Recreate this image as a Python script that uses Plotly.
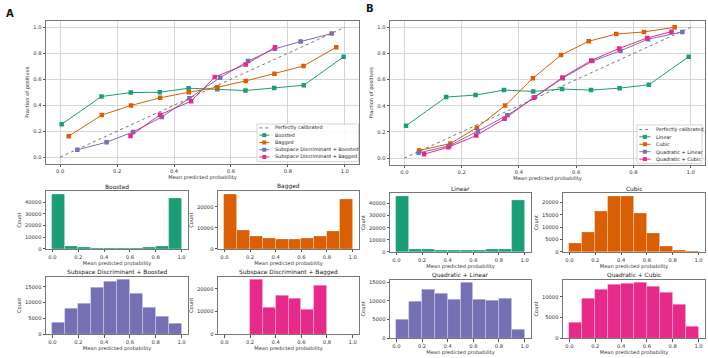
import plotly.graph_objects as go

W, H = 708, 358
FONT = "DejaVu Sans"
GREEN, ORANGE, PURPLE, PINK = "#1b9e77", "#d95f02", "#7570b3", "#e7298a"

# ---------------- Panel A: calibration curves ----------------
perfect_x = [0.0, 1.0]
perfect_y = [0.0, 1.0]

a_boosted_x = [0.005, 0.145, 0.248, 0.350, 0.451, 0.552, 0.651, 0.752, 0.856, 0.996]
a_boosted_y = [0.253, 0.467, 0.497, 0.500, 0.531, 0.523, 0.513, 0.533, 0.554, 0.773]
a_bagged_x = [0.030, 0.146, 0.249, 0.351, 0.452, 0.552, 0.652, 0.753, 0.855, 0.970]
a_bagged_y = [0.161, 0.324, 0.398, 0.457, 0.500, 0.538, 0.587, 0.643, 0.702, 0.847]
a_sdboost_x = [0.060, 0.163, 0.256, 0.357, 0.454, 0.562, 0.660, 0.754, 0.845, 0.954]
a_sdboost_y = [0.056, 0.115, 0.194, 0.309, 0.454, 0.612, 0.740, 0.834, 0.890, 0.952]
a_sdbag_x = [0.247, 0.351, 0.460, 0.543, 0.652, 0.755]
a_sdbag_y = [0.163, 0.327, 0.431, 0.617, 0.714, 0.847]

# ---------------- Panel B: calibration curves ----------------
b_linear_x = [0.006, 0.146, 0.249, 0.348, 0.450, 0.551, 0.652, 0.752, 0.854, 0.993]
b_linear_y = [0.247, 0.467, 0.482, 0.520, 0.510, 0.528, 0.520, 0.535, 0.561, 0.775]
b_cubic_x = [0.052, 0.161, 0.253, 0.352, 0.449, 0.547, 0.644, 0.740, 0.837, 0.944]
b_cubic_y = [0.058, 0.111, 0.232, 0.402, 0.611, 0.788, 0.894, 0.949, 0.965, 1.000]
b_quadlin_x = [0.050, 0.157, 0.257, 0.360, 0.455, 0.553, 0.657, 0.755, 0.851, 0.971]
b_quadlin_y = [0.040, 0.093, 0.207, 0.328, 0.465, 0.611, 0.742, 0.821, 0.909, 0.965]
b_quadcub_x = [0.069, 0.154, 0.251, 0.350, 0.452, 0.552, 0.653, 0.750, 0.848, 0.933]
b_quadcub_y = [0.030, 0.083, 0.172, 0.301, 0.462, 0.616, 0.747, 0.838, 0.919, 0.967]

# ---------------- Histograms (10 bins over [0, 1]) ----------------
bin_edges = [0.0, 0.1, 0.2, 0.3, 0.4, 0.5, 0.6, 0.7, 0.8, 0.9, 1.0]
h_boosted = [47000, 1800, 900, 700, 600, 600, 700, 900, 1800, 43000]
h_bagged = [26100, 8700, 6000, 5200, 4700, 4700, 5200, 6000, 8500, 23800]
h_sdboost = [3600, 8200, 9700, 14800, 16700, 17300, 12800, 8400, 5600, 3300]
h_sdbag = [0, 0, 24200, 11500, 16800, 15900, 10800, 21300, 0, 0]
h_linear = [46100, 2200, 1700, 1100, 1100, 1100, 1100, 1700, 2200, 42500]
h_cubic = [3400, 8100, 16500, 22600, 22600, 15800, 7400, 2300, 700, 300]
h_quadlin = [5000, 9900, 13100, 12100, 10300, 15000, 10500, 10200, 10700, 2300]
h_quadcub = [3800, 9500, 11800, 12900, 13200, 13500, 12500, 11000, 8100, 2800]

hist_titles = ["Boosted", "Bagged", "Subspace Discriminant + Boosted", "Subspace Discriminant + Bagged",
               "Linear", "Cubic", "Quadratic + Linear", "Quadratic + Cubic"]
hist_counts = [h_boosted, h_bagged, h_sdboost, h_sdbag, h_linear, h_cubic, h_quadlin, h_quadcub]
hist_colors = [GREEN, ORANGE, PURPLE, PINK, GREEN, ORANGE, PURPLE, PINK]
hist_yticks = [[0, 10000, 20000, 30000, 40000], [0, 10000, 20000], [0, 5000, 10000, 15000],
               [0, 10000, 20000], [0, 10000, 20000, 30000, 40000], [0, 5000, 10000, 15000, 20000],
               [0, 5000, 10000, 15000], [0, 5000, 10000]]
prob_ticks = [0.0, 0.2, 0.4, 0.6, 0.8, 1.0]

legend_a = ["Perfectly calibrated", "Boosted", "Bagged",
            "Subspace Discriminant + Boosted", "Subspace Discriminant + Bagged"]
legend_b = ["Perfectly calibrated", "Linear", "Cubic", "Quadratic + Linear", "Quadratic + Cubic"]

# pixel boxes (x0, x1, y0, y1) for every axes
boxes = [
    (46, 359, 21, 165),    # A calibration
    (390, 705, 21, 166),   # B calibration
    (46, 188, 193, 251), (218, 359, 193, 251), (46, 188, 279, 337), (218, 359, 279, 337),
    (390, 531, 195, 254), (563, 705, 195, 254), (390, 531, 282, 341), (563, 705, 282, 341),
]


def dom(b):
    x0, x1, y0, y1 = b
    return [x0 / W, x1 / W], [1 - y1 / H, 1 - y0 / H]


fig = go.Figure()
layout = dict(width=W, height=H, margin=dict(l=0, r=0, t=0, b=0),
              plot_bgcolor="white", paper_bgcolor="white", showlegend=False,
              font=dict(family=FONT, size=5, color="#333"), bargap=0)

TICKFONT = dict(family=FONT, size=5.2, color="#333")
LBLFONT = dict(family=FONT, size=5.1, color="#333")

for i, b in enumerate(boxes):
    n = "" if i == 0 else str(i + 1)
    xd, yd = dom(b)
    calib = i < 2
    common = dict(showline=True, linecolor="#777", linewidth=1, mirror=True, ticks="outside",
                  ticklen=2.5, tickwidth=0.8, tickcolor="#555", tickfont=TICKFONT, zeroline=False)
    layout["xaxis" + n] = dict(domain=xd, anchor="y" + n, range=[-0.05, 1.05], tickvals=prob_ticks,
                               tickformat=".1f", showgrid=calib, gridcolor="#d6d6d6", gridwidth=1,
                               title=dict(text="Mean predicted probability", font=LBLFONT, standoff=2),
                               **common)
    if calib:
        layout["yaxis" + n] = dict(domain=yd, anchor="x" + n, range=[-0.05, 1.05], tickvals=prob_ticks,
                                   tickformat=".1f", showgrid=True, gridcolor="#d6d6d6", gridwidth=1,
                                   title=dict(text="Fraction of positives", font=LBLFONT, standoff=3),
                                   **common)
    else:
        counts = hist_counts[i - 2]
        layout["yaxis" + n] = dict(domain=yd, anchor="x" + n, range=[0, max(counts) * 1.05],
                                   tickvals=hist_yticks[i - 2], tickformat="d", showgrid=False,
                                   title=dict(text="Count", font=LBLFONT, standoff=3), **common)

# calibration traces
def add_line(x, y, color, ax):
    fig.add_trace(go.Scatter(x=x, y=y, mode="lines+markers", xaxis="x" + ax, yaxis="y" + ax,
                             line=dict(color=color, width=1),
                             marker=dict(symbol="square", size=4.5, color=color)))

for ax in ["", "2"]:
    fig.add_trace(go.Scatter(x=perfect_x, y=perfect_y, mode="lines", xaxis="x" + ax, yaxis="y" + ax,
                             line=dict(color="#555", width=0.8, dash="dot")))

add_line(a_boosted_x, a_boosted_y, GREEN, "")
add_line(a_bagged_x, a_bagged_y, ORANGE, "")
add_line(a_sdboost_x, a_sdboost_y, PURPLE, "")
add_line(a_sdbag_x, a_sdbag_y, PINK, "")
add_line(b_linear_x, b_linear_y, GREEN, "2")
add_line(b_cubic_x, b_cubic_y, ORANGE, "2")
add_line(b_quadlin_x, b_quadlin_y, PURPLE, "2")
add_line(b_quadcub_x, b_quadcub_y, PINK, "2")

# histogram traces
centers = [(bin_edges[k] + bin_edges[k + 1]) / 2 for k in range(len(bin_edges) - 1)]
widths = [bin_edges[k + 1] - bin_edges[k] for k in range(len(bin_edges) - 1)]
for j, counts in enumerate(hist_counts):
    n = str(j + 3)
    fig.add_trace(go.Bar(x=centers, y=counts, width=widths, xaxis="x" + n, yaxis="y" + n,
                         marker=dict(color=hist_colors[j], line=dict(color="rgba(255,255,255,0.35)", width=0.8))))

annotations = []
shapes = []
# hist titles
for j, t in enumerate(hist_titles):
    x0, x1, y0, y1 = boxes[j + 2]
    annotations.append(dict(text=t, x=(x0 + x1) / 2 / W, y=1 - (y0 - 4.5) / H, xref="paper", yref="paper",
                            showarrow=False, font=dict(family=FONT, size=5.9, color="#222"),
                            xanchor="center", yanchor="middle"))
# panel letters
annotations.append(dict(text="<b>A</b>", x=10 / W, y=1 - 14 / H, xref="paper", yref="paper", showarrow=False,
                        font=dict(family=FONT, size=10, color="#111"), xanchor="center", yanchor="middle"))
annotations.append(dict(text="<b>B</b>", x=370 / W, y=1 - 9 / H, xref="paper", yref="paper", showarrow=False,
                        font=dict(family=FONT, size=10, color="#111"), xanchor="center", yanchor="middle"))


# custom legends (compact, matplotlib-like)
def legend(box, rows, samp_x, text_x, labels, colors):
    bx0, bx1, by0, by1 = box
    shapes.append(dict(type="rect", xref="paper", yref="paper", x0=bx0 / W, x1=bx1 / W,
                       y0=1 - by1 / H, y1=1 - by0 / H, line=dict(color="#ccc", width=0.8),
                       fillcolor="rgba(255,255,255,0.85)", layer="above"))
    for k, (lab, col) in enumerate(zip(labels, colors)):
        yy = 1 - rows[k] / H
        if col is None:
            shapes.append(dict(type="line", xref="paper", yref="paper", x0=samp_x[0] / W, x1=samp_x[1] / W,
                               y0=yy, y1=yy, line=dict(color="#555", width=0.8, dash="dot"), layer="above"))
        else:
            shapes.append(dict(type="line", xref="paper", yref="paper", x0=samp_x[0] / W, x1=samp_x[1] / W,
                               y0=yy, y1=yy, line=dict(color=col, width=1), layer="above"))
            cx = (samp_x[0] + samp_x[1]) / 2
            shapes.append(dict(type="rect", xref="paper", yref="paper", x0=(cx - 2) / W, x1=(cx + 2) / W,
                               y0=yy - 2 / H, y1=yy + 2 / H, line=dict(width=0), fillcolor=col, layer="above"))
        annotations.append(dict(text=lab, x=text_x / W, y=yy, xref="paper", yref="paper", showarrow=False,
                                font=dict(family=FONT, size=4.9, color="#222"), xanchor="left", yanchor="middle"))


legend((257, 358.5, 125, 163), [129, 136.3, 143.7, 151, 158.3], (259.3, 269.3), 272.5, legend_a,
       [None, GREEN, ORANGE, PURPLE, PINK])
legend((637, 702, 126, 165), [130.7, 138, 145.5, 153, 160.5], (639.3, 650.5), 653.5, legend_b,
       [None, GREEN, ORANGE, PURPLE, PINK])

layout["annotations"] = annotations
layout["shapes"] = shapes
fig.update_layout(**layout)
fig.write_html("out.html", config={"displayModeBar": False},
               post_script="document.body.style.margin='0';document.body.style.overflow='hidden';")
